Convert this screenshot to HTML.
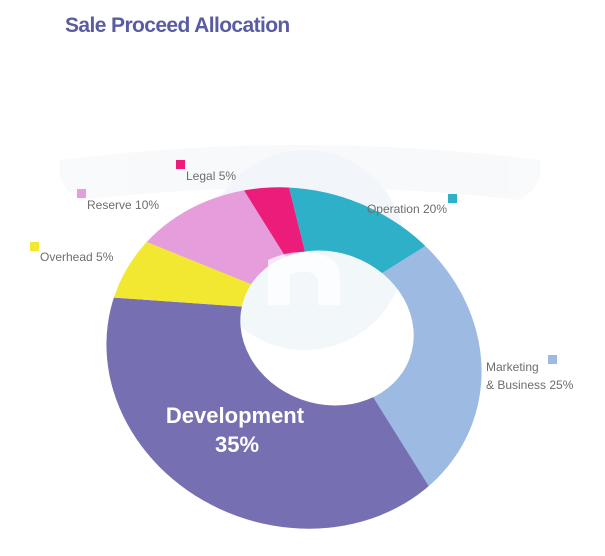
<!DOCTYPE html>
<html><head><meta charset="utf-8"><style>
html,body{margin:0;padding:0;background:#fff;width:605px;height:556px;overflow:hidden;font-family:"Liberation Sans",sans-serif}
svg{display:block}
</style></head><body>
<svg id="chart" width="605" height="556" xmlns="http://www.w3.org/2000/svg">
<text x="65" y="32" font-size="21" font-weight="bold" fill="#5a5ca3" font-family="Liberation Sans, sans-serif" letter-spacing="-0.6">Sale Proceed Allocation</text>
<g opacity="0.45">
<path d="M60 160 Q300 130 540 160 Q545 185 520 200 Q300 175 80 200 Q55 185 60 160Z" fill="#f1f3f6"/>
<circle cx="305" cy="250" r="100" fill="#e3edf4"/>
</g>
<defs>
<mask id="holeMask">
<rect width="605" height="556" fill="#fff"/>
<ellipse cx="327" cy="328" rx="88" ry="76" transform="rotate(20 327 328)" fill="#000"/>
</mask>
<clipPath id="outerClip"><ellipse cx="294" cy="358" rx="190" ry="168" transform="rotate(20 294 358)"/></clipPath>
</defs>
<g id="slices" mask="url(#holeMask)" clip-path="url(#outerClip)"></g>
<path d="M268 305 L268 260 Q300 245 330 258 Q340 265 340 280 L340 305 L318 305 L318 282 Q316 270 300 272 L290 274 L290 305Z" fill="#fff" opacity="0.75"/>
<g id="labels"></g>
<text x="235" y="423" font-size="22" font-weight="bold" fill="#fff" text-anchor="middle">Development</text>
<text x="237" y="452" font-size="22" font-weight="bold" fill="#fff" text-anchor="middle">35%</text>
</svg>
<script>
const categories=["Operation","Marketing & Business","Development","Overhead","Reserve","Legal"];
const values=[20,25,35,5,10,5];
const colors=["#2eb0c9","#9dbbe2","#7670b3","#f2e831","#e59ddb","#ec1c7a"];
const ns="http://www.w3.org/2000/svg";
const cx=320,cy=312,R=400,start=256;
const total=values.reduce((a,b)=>a+b,0);
function angleOf(cum){return (start+360*cum/total)*Math.PI/180;}
const g=document.getElementById('slices');
let cum=0;
values.forEach((v,i)=>{
  const a0=angleOf(cum),a1=angleOf(cum+v);cum+=v;
  const large=(a1-a0)>Math.PI?1:0;
  const p=document.createElementNS(ns,'path');
  p.setAttribute('d',`M${cx} ${cy} L${cx+R*Math.cos(a0)} ${cy+R*Math.sin(a0)} A${R} ${R} 0 ${large} 1 ${cx+R*Math.cos(a1)} ${cy+R*Math.sin(a1)}Z`);
  p.setAttribute('fill',colors[i]);
  
  
  g.appendChild(p);
});
const lab=document.getElementById('labels');
function legend(name,color,sx,sy,lines,tx,ty,anchor){
  const r=document.createElementNS(ns,'rect');
  r.setAttribute('x',sx);r.setAttribute('y',sy);r.setAttribute('width',9);r.setAttribute('height',9);r.setAttribute('fill',color);
  
  
  lab.appendChild(r);
  lines.forEach((l,k)=>{
    const t=document.createElementNS(ns,'text');
    t.setAttribute('x',tx);t.setAttribute('y',ty+k*18);t.setAttribute('font-size','12');t.setAttribute('fill','#6d6d6d');
    if(anchor)t.setAttribute('text-anchor',anchor);
    t.textContent=l;
    
    
    lab.appendChild(t);
  });
}
legend('legal',colors[5],176,160,["Legal "+values[5]+"%"],186,180);
legend('reserve',colors[4],77,189,["Reserve "+values[4]+"%"],87,209);
legend('overhead',colors[3],30,242,["Overhead "+values[3]+"%"],40,261);
legend('operation',colors[0],448,194,["Operation "+values[0]+"%"],447,213,"end");
legend('marketing',colors[1],548,355,["Marketing","& Business "+values[1]+"%"],486,371);
</script>
</body></html>
